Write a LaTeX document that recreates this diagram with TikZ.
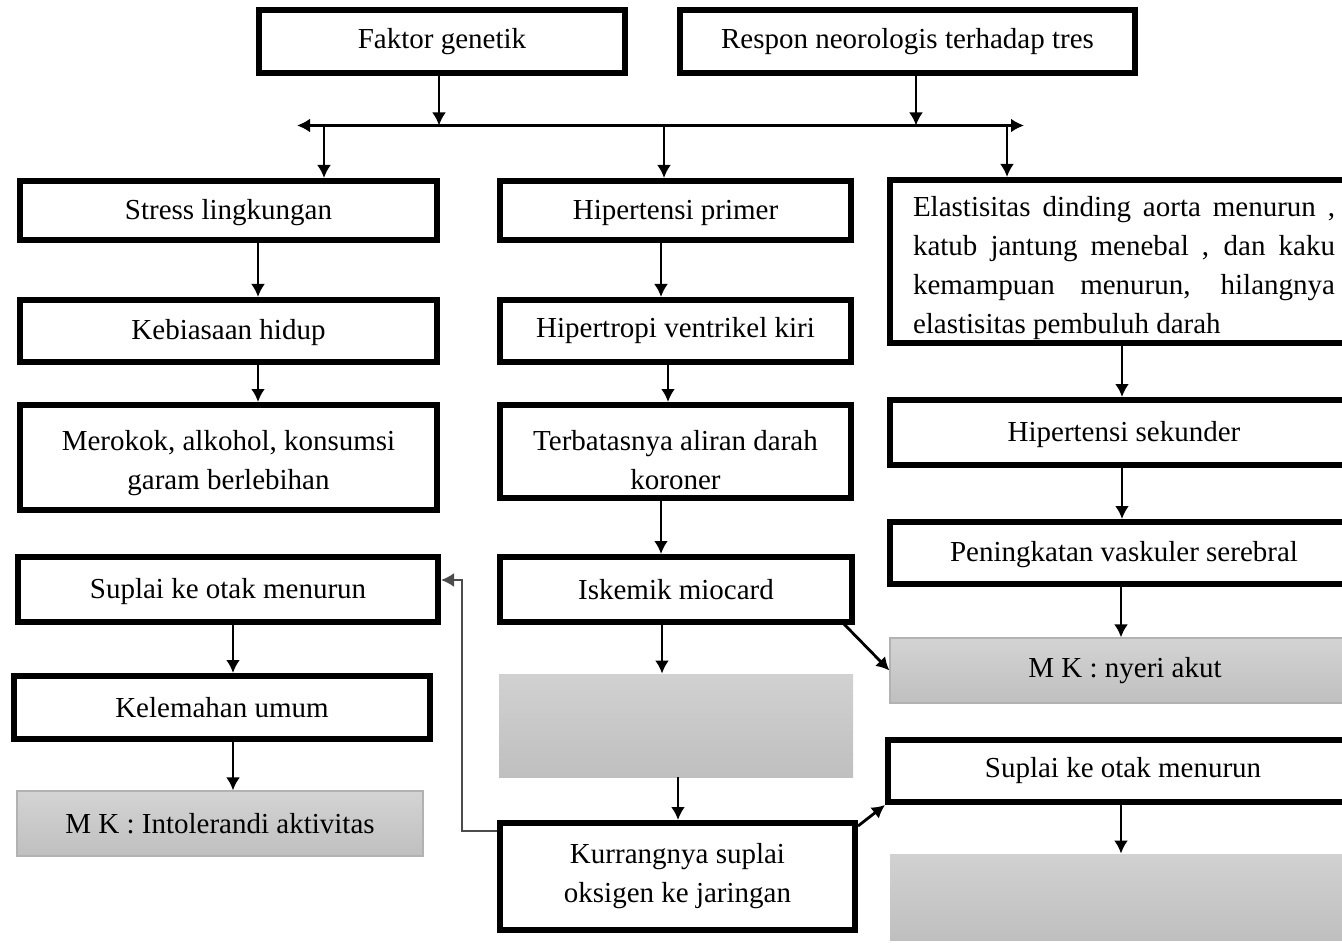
\documentclass[tikz,border=0pt]{standalone}
\usepackage{fontspec}
\setmainfont{Liberation Serif}
\usetikzlibrary{arrows.meta}
\tikzset{>={Latex[width=7pt,length=6.5pt]}}
\tikzset{
  kotak/.style={draw, line width=3pt, fill=white, inner sep=0pt, align=center},
  abu/.style={draw=black!30, line width=0.6pt, top color=black!17, bottom color=black!25, inner sep=0pt, align=center},
  kosong/.style={top color=black!18, bottom color=black!25, inner sep=0pt},
  panah/.style={->, line width=1.4pt},
  balik/.style={->, line width=1pt, draw=black!70},
}

\begin{document}
\begin{tikzpicture}[x=0.5pt, y=-0.5pt]

  \fontsize{14.5}{19.5}\selectfont

  \newcommand\LB{211pt};
  \newcommand\naik[1]{\rule{0pt}{#1}};

  \useasboundingbox (0,0) rectangle (1342,946);

  % baris atas
  \node[kotak, minimum width=183pt, minimum height=31.5pt] (faktor) at (442,41.5) {Faktor genetik};
  \node[kotak, minimum width=227.5pt, minimum height=31.5pt] (respon) at (907.5,41.5) {Respon neorologis terhadap tres};

  % kolom kiri
  \node[kotak, minimum width=208.5pt, minimum height=29.5pt] (stress) at (228.5,210.5) {\naik{12pt}Stress lingkungan};
  \node[kotak, minimum width=208.5pt, minimum height=31pt] (kebias) at (228.5,331) {\naik{12pt}Kebiasaan hidup};
  \node[kotak, minimum width=208.5pt, minimum height=52.5pt] (merokok) at (228.5,457.5) {\naik{16pt}Merokok, alkohol, konsumsi\\garam berlebihan};
  \node[kotak, minimum width=210pt, minimum height=32.5pt] (suplaiL) at (228,589.5) {\naik{12pt}Suplai ke otak menurun};
  \node[kotak, minimum width=208pt, minimum height=31.5pt] (lemah) at (222,707.5) {Kelemahan umum};
  \node[abu, minimum width=203pt, minimum height=32.5pt] (intol) at (220,823.5) {M K : Intolerandi aktivitas};

  % kolom tengah
  \node[kotak, minimum width=175.5pt, minimum height=29.5pt] (hprimer) at (675.5,210.5) {\naik{12pt}Hipertensi primer};
  \node[kotak, minimum width=175.5pt, minimum height=31pt] (hvent) at (675.5,331) {Hipertropi ventrikel kiri};
  \node[kotak, minimum width=175.5pt, minimum height=46.5pt] (terbatas) at (675.5,451.5) {\naik{19pt}Terbatasnya aliran darah\\koroner};
  \node[kotak, minimum width=176pt, minimum height=32.5pt] (iskemik) at (676,589.5) {Iskemik miocard};
  \node[kosong, minimum width=177pt, minimum height=51.5pt] (abu1) at (676,725.5) {};
  \node[kotak, minimum width=177.5pt, minimum height=53.5pt] (kurang) at (677.5,876.5) {Kurrangnya suplai\\oksigen ke jaringan};

  % kolom kanan
  \node[kotak, minimum width=234pt, minimum height=81.5pt, align=left] (elastis) at (1124,261.5)
    {\baselineskip=20.3pt
     \makebox[\LB][s]{\naik{17pt}Elastisitas dinding aorta menurun ,}\\
     \makebox[\LB][s]{katub jantung menebal , dan kaku}\\
     \makebox[\LB][s]{kemampuan menurun, hilangnya}\\
     \makebox[\LB][l]{elastisitas pembuluh darah}};
  \node[kotak, minimum width=234pt, minimum height=32.5pt] (hsek) at (1124,432.5) {\naik{12pt}Hipertensi sekunder};
  \node[kotak, minimum width=234pt, minimum height=31pt] (vaskuler) at (1124,553) {\naik{12pt}Peningkatan vaskuler serebral};
  \node[abu, minimum width=235pt, minimum height=32.5pt] (nyeri) at (1125,670.5) {M K : nyeri akut};
  \node[kotak, minimum width=235pt, minimum height=31pt] (suplaiR) at (1123,771) {Suplai ke otak menurun};
  \node[kosong, minimum width=235pt, minimum height=43pt] (abu2) at (1125,897) {};

  % garis pembagi
  \coordinate (kiri) at (297,125.5);
  \coordinate (kanan) at (1024,125.5);
  \draw[<->, line width=1.4pt] (kiri) -- (kanan);
  \draw[panah] (439,0 |- faktor.south) -- (kiri -| 439,0); %% faktor->garis
  \draw[panah] (916,0 |- respon.south) -- (kiri -| 916,0); %% respon->garis
  \draw[panah] (kiri -| 324,0) -- (324,0 |- stress.north);
  \draw[panah] (kiri -| 664,0) -- (664,0 |- hprimer.north);
  \draw[panah] (kiri -| 1007,0) -- (1007,0 |- elastis.north);

  % panah kiri
  \draw[panah] (258,0 |- stress.south) -- (258,0 |- kebias.north);
  \draw[panah] (258,0 |- kebias.south) -- (258,0 |- merokok.north);
  \draw[panah] (233,0 |- suplaiL.south) -- (233,0 |- lemah.north);
  \draw[panah] (233,0 |- lemah.south) -- (233,0 |- intol.north);

  % panah tengah
  \draw[panah] (661,0 |- hprimer.south) -- (661,0 |- hvent.north);
  \draw[panah] (668,0 |- hvent.south) -- (668,0 |- terbatas.north);
  \draw[panah] (661,0 |- terbatas.south) -- (661,0 |- iskemik.north);
  \draw[panah] (662,0 |- iskemik.south) -- (662,0 |- abu1.north);
  \draw[panah] (678,0 |- abu1.south) -- (678,0 |- kurang.north);

  % panah kanan
  \draw[panah] (1122,0 |- elastis.south) -- (1122,0 |- hsek.north);
  \draw[panah] (1122,0 |- hsek.south) -- (1122,0 |- vaskuler.north);
  \draw[panah] (1121,0 |- vaskuler.south) -- (1121,0 |- nyeri.north);
  \draw[panah] (1121,0 |- suplaiR.south) -- (1121,0 |- abu2.north);

  % panah miring dan balik
  \draw[panah] ([xshift=-7.5pt,yshift=2.5pt]iskemik.south east) -- (nyeri.west);
  \draw[panah] ([yshift=-3pt]kurang.north east) -- (suplaiR.south west);
  \draw[balik] ([yshift=-5.5pt]kurang.north west) -| (462,580) -- ([yshift=4.75pt]suplaiL.east);

\end{tikzpicture}
\end{document}
